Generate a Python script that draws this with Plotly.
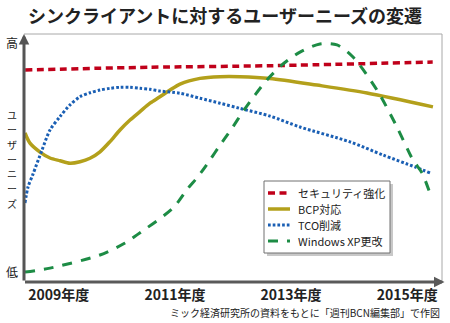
import plotly.graph_objects as go

# ---------------- data ----------------
title_text = "シンクライアントに対するユーザーニーズの変遷"
source_text = "ミック経済研究所の資料をもとに「週刊BCN編集部」で作図"
series_names = ["セキュリティ強化", "BCP対応", "TCO削減", "Windows XP更改"]
tick_years = [2009, 2011, 2013, 2015]
tick_labels = ["2009年度", "2011年度", "2013年度", "2015年度"]
y_high_label = "高"
y_low_label = "低"
y_axis_chars = ["ユ", "ー", "ザ", "ー", "ニ", "ー", "ズ"]

sec_x = [2008.42, 2010.57, 2012.64, 2015.44]
sec_y = [85.5, 86.6, 87.2, 88.7]

bcp_x = [2008.417, 2008.503, 2008.676, 2008.848, 2009.020, 2009.192, 2009.365, 2009.537,
         2009.709, 2009.881, 2010.053, 2010.226, 2010.398, 2010.570, 2010.742, 2010.915,
         2011.087, 2011.431, 2011.776, 2012.120, 2012.637, 2013.447, 2014.308, 2015.444]
bcp_y = [60.1, 56.0, 52.4, 50.0, 48.9, 47.9, 48.5, 49.9, 52.5, 56.6, 61.3, 65.3, 68.7,
         72.1, 74.7, 77.4, 79.8, 82.1, 82.8, 82.8, 82.1, 79.4, 76.2, 70.6]

tco_x = [2008.417, 2008.469, 2008.555, 2008.710, 2008.848, 2009.020, 2009.192, 2009.365,
         2009.537, 2009.709, 2009.881, 2010.053, 2010.226, 2010.398, 2010.570, 2010.742,
         2011.087, 2011.431, 2011.776, 2012.120, 2012.637, 2013.154, 2014.015, 2014.583,
         2015.134, 2015.393]
tco_y = [31.9, 38.3, 43.5, 53.2, 61.3, 66.7, 71.4, 74.7, 76.3, 77.4, 78.1, 78.5, 78.5,
         78.1, 77.7, 77.0, 76.1, 74.1, 72.1, 70.0, 66.9, 62.5, 56.5, 51.2, 46.4, 44.0]

xp_x = [2008.417, 2008.848, 2009.709, 2010.140, 2010.346, 2010.966, 2011.225, 2011.397,
        2011.604, 2011.776, 2011.982, 2012.172, 2012.379, 2012.585, 2012.861, 2013.154,
        2013.498, 2013.791, 2014.067, 2014.480, 2014.824, 2015.100, 2015.255, 2015.427]
xp_y = [4.0, 5.6, 10.9, 15.7, 19.0, 29.8, 37.8, 42.5, 49.2, 55.2, 62.0, 68.7, 75.4, 81.5,
        87.9, 92.7, 96.0, 95.6, 90.7, 77.4, 62.5, 49.2, 44.0, 33.4]

x_range = [2008.4, 2015.6]
y_range = [0, 100]

# ---------------- styles ----------------
W, H = 450, 323
ML, MR, MT, MB = 24, 8, 34, 41
PW, PH = W - ML - MR, H - MT - MB
FONT = "Noto Sans CJK JP"

styles = [
    dict(color="#c0001a", width=3.5, dash="7px,4.5px"),
    dict(color="#b3a01b", width=3.5, dash="solid"),
    dict(color="#1a5fb4", width=3, dash="2.7px,2px"),
    dict(color="#1d8c45", width=3, dash="10px,9px"),
]


def px(xp):
    return (xp - ML) / PW


def py(yp):
    return (H - MB - yp) / PH


fig = go.Figure()
for name, xs, ys, st in zip(series_names, [sec_x, bcp_x, tco_x, xp_x],
                            [sec_y, bcp_y, tco_y, xp_y], styles):
    fig.add_trace(go.Scatter(x=xs, y=ys, mode="lines", name=name,
                             line=dict(shape="spline", smoothing=0.8, **st),
                             showlegend=False, hoverinfo="skip"))

shapes = []
annotations = []

# frame: top and right thin borders
shapes.append(dict(type="line", xref="paper", yref="paper", x0=0, x1=1, y0=1, y1=1,
                   line=dict(color="#a8a8a8", width=1)))
shapes.append(dict(type="line", xref="paper", yref="paper", x0=1, x1=1, y0=0, y1=1,
                   line=dict(color="#a8a8a8", width=1)))

# axis arrows
annotations.append(dict(xref="paper", yref="paper", x=0, y=1, ax=0, ay=PH, text="",
                        showarrow=True, arrowhead=2, arrowsize=0.7, arrowwidth=3,
                        arrowcolor="#555555", standoff=0))
annotations.append(dict(xref="paper", yref="paper", x=1.006, y=0, ax=-PW - 3, ay=0, text="",
                        showarrow=True, arrowhead=2, arrowsize=0.7, arrowwidth=3,
                        arrowcolor="#5a5a5a", standoff=0))

# y labels
annotations.append(dict(xref="paper", yref="paper", x=px(11.5), y=py(43), text=y_high_label,
                        showarrow=False, font=dict(size=12, color="#222", family=FONT),
                        xanchor="center", yanchor="middle"))
annotations.append(dict(xref="paper", yref="paper", x=px(11.5), y=py(271), text=y_low_label,
                        showarrow=False, font=dict(size=12, color="#222", family=FONT),
                        xanchor="center", yanchor="middle"))
step = 14.8
first = 159 - step * (len(y_axis_chars) - 1) / 2
for i, ch in enumerate(y_axis_chars):
    annotations.append(dict(xref="paper", yref="paper", x=px(11.5), y=py(first + i * step),
                            text=ch, showarrow=False, borderpad=0,
                            font=dict(size=10, color="#222", family=FONT),
                            xanchor="center", yanchor="middle"))

# source note
annotations.append(dict(xref="paper", yref="paper", x=1, y=py(312), text=source_text,
                        showarrow=False, font=dict(size=10, color="#222", family=FONT),
                        xanchor="right", yanchor="middle"))

# manual legend
lx0, lx1, ly0, ly1 = 264, 390, 181, 253
shapes.append(dict(type="rect", xref="paper", yref="paper", x0=px(lx0 + 3), x1=px(lx1 + 3),
                   y0=py(ly1 + 3), y1=py(ly0 + 3), line=dict(width=0), fillcolor="#c8c8c8"))
shapes.append(dict(type="rect", xref="paper", yref="paper", x0=px(lx0), x1=px(lx1),
                   y0=py(ly1), y1=py(ly0), line=dict(color="#707070", width=1),
                   fillcolor="white"))
for i, (name, st) in enumerate(zip(series_names, styles)):
    yy = 193 + i * 16
    shapes.append(dict(type="line", xref="paper", yref="paper", x0=px(268), x1=px(290),
                       y0=py(yy), y1=py(yy),
                       line=dict(color=st["color"], width=st["width"], dash=st["dash"])))
    annotations.append(dict(xref="paper", yref="paper", x=px(296), y=py(yy), text=name,
                            showarrow=False, font=dict(size=11, color="#222", family=FONT),
                            xanchor="left", yanchor="middle"))

fig.update_layout(
    width=W, height=H,
    margin=dict(l=ML, r=MR, t=MT, b=MB, pad=0),
    paper_bgcolor="white", plot_bgcolor="white",
    font=dict(family=FONT, color="#222"),
    title=dict(text=title_text, x=0.5, xanchor="center", xref="container",
               y=1 - 17 / H, yanchor="middle", yref="container",
               font=dict(size=18, color="#222", family=FONT, weight="bold")),
    xaxis=dict(range=x_range, showgrid=False, zeroline=False, showline=False,
               tickvals=tick_years, ticktext=tick_labels, ticks="",
               ticklabelstandoff=3,
               tickfont=dict(size=14, color="#222", family=FONT, weight="bold"),
               fixedrange=True),
    yaxis=dict(range=y_range, showgrid=False, zeroline=False, showline=False,
               showticklabels=False, ticks="", fixedrange=True),
    shapes=shapes,
    annotations=annotations,
    showlegend=False,
)

fig.write_html("out.html")
